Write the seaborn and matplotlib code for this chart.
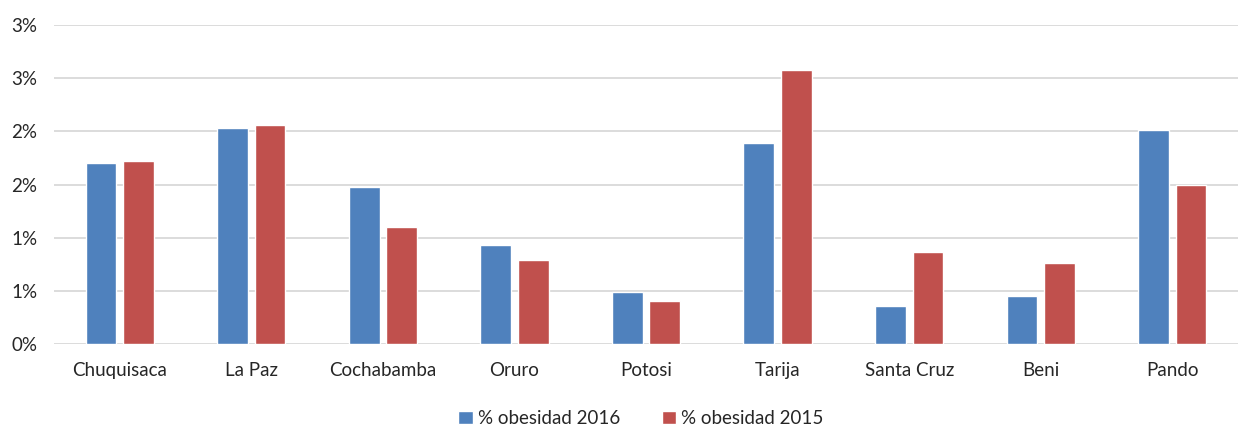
import math
import pandas as pd
import matplotlib
matplotlib.use("Agg")
import matplotlib.pyplot as plt
import seaborn as sns
from matplotlib.ticker import FuncFormatter, MultipleLocator

departamentos = ["Chuquisaca", "La Paz", "Cochabamba", "Oruro", "Potosi",
                 "Tarija", "Santa Cruz", "Beni", "Pando"]
obesidad_2016 = [1.70, 2.03, 1.48, 0.93, 0.49, 1.89, 0.36, 0.45, 2.01]
obesidad_2015 = [1.72, 2.06, 1.10, 0.79, 0.41, 2.58, 0.87, 0.76, 1.50]
series = ["% obesidad 2016", "% obesidad 2015"]
colors = ["#4F81BD", "#C0504D"]

df = pd.DataFrame({
    "dep": departamentos * 2,
    "serie": [series[0]] * len(departamentos) + [series[1]] * len(departamentos),
    "valor": obesidad_2016 + obesidad_2015,
})

sns.set_style("white")
plt.rcParams["font.family"] = ["Lato", "DejaVu Sans"]

fig = plt.figure(figsize=(12.4, 4.28), dpi=100)
ax = fig.add_axes([0.0435, 0.196, 0.955, 0.7455])

sns.barplot(data=df, x="dep", y="valor", hue="serie", palette=colors,
            width=0.57, gap=0.18, ax=ax, legend=True, saturation=1)

ax.set_ylim(0, 3)
ax.yaxis.set_major_locator(MultipleLocator(0.5))
ax.yaxis.set_major_formatter(
    FuncFormatter(lambda v, p: "{:.0f}%".format(math.floor(v + 0.5))))
ax.grid(axis="y", color="#D9D9D9", linewidth=1.3)
ax.set_axisbelow(True)
for s in ax.spines.values():
    s.set_visible(False)
ax.tick_params(axis="y", length=0, pad=12, labelsize=13.5)
ax.tick_params(axis="x", length=0, pad=13, labelsize=13.5)
ax.set_xlabel("")
ax.set_ylabel("")
ax.set_xlim(-0.5, len(departamentos) - 0.5)

ax.legend_.remove()
handles, labels = ax.get_legend_handles_labels()
fig.legend(handles, labels, loc="center", bbox_to_anchor=(0.517, 0.022),
           ncol=2, frameon=False, fontsize=13.5, handlelength=0.75,
           handleheight=0.75, handletextpad=0.3, columnspacing=2.2)

plt.savefig("out.png", dpi=100)
